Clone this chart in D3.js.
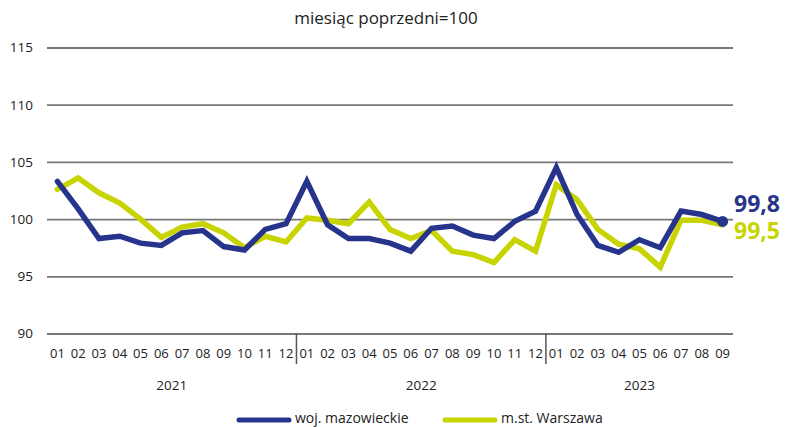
<!DOCTYPE html>
<html>
<head>
<meta charset="utf-8">
<script src="https://cdn.jsdelivr.net/npm/d3@7"></script>
<style>
  body { margin: 0; background: #fff; }
  svg { font-family: "Open Sans", "Noto Sans", sans-serif; }
</style>
</head>
<body>
<div id="chart"></div>
<script>
// Months shown on the axis (2021-01 .. 2023-09)
const months = ["01","02","03","04","05","06","07","08","09","10","11","12",
                "01","02","03","04","05","06","07","08","09","10","11","12",
                "01","02","03","04","05","06","07","08","09"];
const years = ["2021", "2022", "2023"];
const yearLengths = [12, 12, 9];

// woj. mazowieckie, previous month = 100
const mazowieckie = [103.3, 100.9, 98.3, 98.5, 97.9, 97.7, 98.8, 99.0, 97.6, 97.3, 99.1, 99.6,
                     103.3, 99.5, 98.3, 98.3, 97.9, 97.2, 99.2, 99.4, 98.6, 98.3, 99.8, 100.7,
                     104.5, 100.4, 97.7, 97.1, 98.2, 97.5, 100.7, 100.4, 99.8];
// m.st. Warszawa
const warszawa = [102.6, 103.6, 102.3, 101.4, 100.0, 98.4, 99.3, 99.6, 98.8, 97.5, 98.5, 98.0,
                  100.1, 99.9, 99.6, 101.5, 99.1, 98.3, 99.0, 97.2, 96.9, 96.2, 98.2, 97.2,
                  103.0, 101.7, 99.1, 97.8, 97.4, 95.8, 99.9, 99.9, 99.5];

const yTicks = [90, 95, 100, 105, 110, 115];
const seriesNames = ["woj. mazowieckie", "m.st. Warszawa"];
const blue = "#27348b";
const green = "#c8d400";

const width = 787, height = 427;
const plot = { left: 47, right: 733, top: 47.5, bottom: 333.5 };

const svg = d3.select("#chart").append("svg")
    .attr("width", width)
    .attr("height", height);

const x = d3.scaleBand()
    .domain(d3.range(months.length))
    .range([plot.left, plot.right]);

const y = d3.scaleLinear()
    .domain([90, 115])
    .range([plot.bottom, plot.top]);

// subtitle
svg.append("text")
    .attr("x", 386)
    .attr("y", 24)
    .attr("text-anchor", "middle")
    .style("font-size", "17px")
    .style("fill", "#222")
    .text("miesiąc poprzedni=100");

// gridlines + y labels
const yAxis = svg.append("g")
    .attr("transform", `translate(${plot.left},0)`)
    .call(d3.axisLeft(y).tickValues(yTicks).tickSize(-(plot.right - plot.left)).tickPadding(14));
yAxis.select(".domain").remove();
yAxis.selectAll(".tick line").attr("stroke", "#777").attr("stroke-width", 1.8);
yAxis.selectAll(".tick text")
    .style("font-size", "13.5px")
    .style("font-family", "'Open Sans', sans-serif")
    .attr("fill", "#222");

// x labels (months)
svg.append("g").selectAll("text")
    .data(months)
    .join("text")
    .attr("x", (d, i) => x(i) + x.bandwidth() / 2)
    .attr("y", 358)
    .attr("text-anchor", "middle")
    .style("font-size", "13px")
    .attr("fill", "#222")
    .text(d => d);

// year separators and labels
let start = 0;
years.forEach((yr, k) => {
    const x0 = x(start);
    const end = start + yearLengths[k];
    const x1 = end < months.length ? x(end) : plot.right;
    if (k > 0) {
        svg.append("line")
            .attr("x1", x0).attr("x2", x0)
            .attr("y1", plot.bottom).attr("y2", 364)
            .attr("stroke", "#555").attr("stroke-width", 1.5);
    }
    svg.append("text")
        .attr("x", (x0 + x1) / 2)
        .attr("y", 390)
        .attr("text-anchor", "middle")
        .style("font-size", "13.5px")
        .attr("fill", "#222")
        .text(yr);
    start = end;
});

// lines
const line = d3.line()
    .x((d, i) => x(i) + x.bandwidth() / 2)
    .y(d => y(d));

svg.append("path")
    .datum(warszawa)
    .attr("fill", "none")
    .attr("stroke", green)
    .attr("stroke-width", 5.5)
    .attr("stroke-linecap", "round")
    .attr("d", line);

svg.append("path")
    .datum(mazowieckie)
    .attr("fill", "none")
    .attr("stroke", blue)
    .attr("stroke-width", 5.5)
    .attr("stroke-linecap", "round")
    .attr("d", line);

// last point marker + value labels
const last = months.length - 1;
svg.append("circle")
    .attr("cx", x(last) + x.bandwidth() / 2)
    .attr("cy", y(mazowieckie[last]))
    .attr("r", 5.5)
    .attr("fill", blue);

const fmt = v => v.toFixed(1).replace(".", ",");
svg.append("text")
    .attr("x", 734)
    .attr("y", 212)
    .style("font-size", "23px")
    .style("font-weight", "bold")
    .attr("fill", blue)
    .text(fmt(mazowieckie[last]));
svg.append("text")
    .attr("x", 734)
    .attr("y", 239)
    .style("font-size", "23px")
    .style("font-weight", "bold")
    .attr("fill", green)
    .text(fmt(warszawa[last]));

// legend
const legend = [
    { name: seriesNames[0], color: blue, x: 237 },
    { name: seriesNames[1], color: green, x: 443 }
];
legend.forEach(l => {
    svg.append("line")
        .attr("x1", l.x + 2).attr("x2", l.x + 52)
        .attr("y1", 420).attr("y2", 420)
        .attr("stroke", l.color)
        .attr("stroke-width", 5)
        .attr("stroke-linecap", "round");
    svg.append("text")
        .attr("x", l.x + 58)
        .attr("y", 423)
        .style("font-size", "14px")
        .attr("fill", "#222")
        .text(l.name);
});
</script>
</body>
</html>
